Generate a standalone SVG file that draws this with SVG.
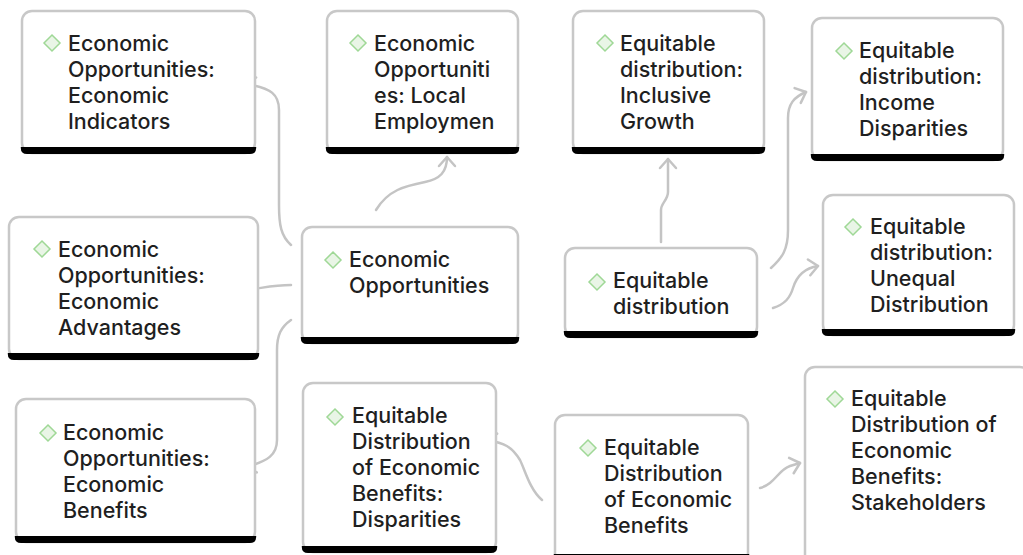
<svg xmlns="http://www.w3.org/2000/svg" width="1023" height="555" viewBox="0 0 1023 555">
<defs>
<style>
.box{fill:#fff;stroke:#c8c8c8;stroke-width:2.5}
.bar{fill:#000}
.t{font-family:Inter,"Liberation Sans",sans-serif;font-size:21.5px;font-weight:500;fill:#1f1f1f}
.ico{fill:#e9f5e6;stroke:#9fd896;stroke-width:1.5}
.con{fill:none;stroke:#c4c4c4;stroke-width:2.5;stroke-linecap:round}
</style>
<marker id="arr" markerUnits="userSpaceOnUse" markerWidth="24" markerHeight="24" viewBox="-12 -12 24 24" refX="0" refY="0" orient="auto" overflow="visible">
<path d="M-9,-8 L0,0 L-9,8" fill="none" stroke="#c4c4c4" stroke-width="2.5" stroke-linecap="round" stroke-linejoin="round"/>
</marker>
</defs>
<rect width="1023" height="555" fill="#fff"/>
<g id="connectors">
<path class="con" d="M291,245 C281,236 279,225 279,205 L279,110 C279,95 272,88 246,84" marker-end="url(#arr)"/>
<path class="con" d="M291,285 C275,285 268,287 247,290" marker-end="url(#arr)"/>
<path class="con" d="M291,320 C281,327 277,335 277,350 L277,440 C277,455 268,461 246,467" marker-end="url(#arr)"/>
<path class="con" d="M376,210 C388,190 405,186 425,182 C440,179 447,172 447,157" marker-end="url(#arr)"/>
<path class="con" d="M661,242 L661,210 C661,203 668,200 668,192 L668,159" marker-end="url(#arr)"/>
<path class="con" d="M771,268 C782,258 788,250 788,230 L788,118 C788,104 794,97 806,92" marker-end="url(#arr)"/>
<path class="con" d="M773,308 C785,304 790,298 793,288 C797,275 805,268 818,266" marker-end="url(#arr)"/>
<path class="con" d="M542,500 C530,490 525,470 520,460 C512,447 505,443 487,440" marker-end="url(#arr)"/>
<path class="con" d="M760,488 C775,484 778,470 790,466 L800,463" marker-end="url(#arr)"/>
</g>
<g id="n1">
<rect class="box" x="22" y="11" width="233" height="142" rx="10"/>
<path class="bar" d="M20.8,147 H256.2 V148 Q256.2,154 250,154 H27 Q20.8,154 20.8,148 Z"/>
<path class="ico" d="M52,35 L60,43 L52,51 L44,43 Z"/>
<text class="t" x="68" y="51">Economic<tspan x="68" dy="26">Opportunities:</tspan><tspan x="68" dy="26">Economic</tspan><tspan x="68" dy="26">Indicators</tspan></text>
</g>
<g id="n2">
<rect class="box" x="327" y="11" width="191" height="142" rx="10"/>
<path class="bar" d="M325.8,147 H519.2 V148 Q519.2,154 513,154 H332 Q325.8,154 325.8,148 Z"/>
<path class="ico" d="M358,35 L366,43 L358,51 L350,43 Z"/>
<text class="t" x="374" y="51">Economic<tspan x="374" dy="26">Opportuniti</tspan><tspan x="374" dy="26">es: Local</tspan><tspan x="374" dy="26">Employmen</tspan></text>
</g>
<g id="n3">
<rect class="box" x="573" y="11" width="191" height="142" rx="10"/>
<path class="bar" d="M571.8,147 H765.2 V148 Q765.2,154 759,154 H578 Q571.8,154 571.8,148 Z"/>
<path class="ico" d="M605,35 L613,43 L605,51 L597,43 Z"/>
<text class="t" x="620" y="51">Equitable<tspan x="620" dy="26">distribution:</tspan><tspan x="620" dy="26">Inclusive</tspan><tspan x="620" dy="26">Growth</tspan></text>
</g>
<g id="n4">
<rect class="box" x="812" y="18" width="191" height="142" rx="10"/>
<path class="bar" d="M810.8,154 H1004.2 V155 Q1004.2,161 998,161 H817 Q810.8,161 810.8,155 Z"/>
<path class="ico" d="M844,43 L852,51 L844,59 L836,51 Z"/>
<text class="t" x="859" y="58">Equitable<tspan x="859" dy="26">distribution:</tspan><tspan x="859" dy="26">Income</tspan><tspan x="859" dy="26">Disparities</tspan></text>
</g>
<g id="n5">
<rect class="box" x="9" y="217" width="249" height="142" rx="10"/>
<path class="bar" d="M7.8,353 H259.2 V354 Q259.2,360 253,360 H14 Q7.8,360 7.8,354 Z"/>
<path class="ico" d="M42,241 L50,249 L42,257 L34,249 Z"/>
<text class="t" x="58" y="257">Economic<tspan x="58" dy="26">Opportunities:</tspan><tspan x="58" dy="26">Economic</tspan><tspan x="58" dy="26">Advantages</tspan></text>
</g>
<g id="n6">
<rect class="box" x="302" y="227" width="216" height="116" rx="10"/>
<path class="bar" d="M300.8,337 H519.2 V338 Q519.2,344 513,344 H307 Q300.8,344 300.8,338 Z"/>
<path class="ico" d="M333,252 L341,260 L333,268 L325,260 Z"/>
<text class="t" x="349" y="267">Economic<tspan x="349" dy="26">Opportunities</tspan></text>
</g>
<g id="n7">
<rect class="box" x="565" y="248" width="192" height="89" rx="10"/>
<path class="bar" d="M563.8,331 H758.2 V332 Q758.2,338 752,338 H570 Q563.8,338 563.8,332 Z"/>
<path class="ico" d="M597,274 L605,282 L597,290 L589,282 Z"/>
<text class="t" x="613" y="288">Equitable<tspan x="613" dy="26">distribution</tspan></text>
</g>
<g id="n8">
<rect class="box" x="823" y="195" width="191" height="140" rx="10"/>
<path class="bar" d="M821.8,329 H1015.2 V330 Q1015.2,336 1009,336 H828 Q821.8,336 821.8,330 Z"/>
<path class="ico" d="M853,219 L861,227 L853,235 L845,227 Z"/>
<text class="t" x="870" y="234">Equitable<tspan x="870" dy="26">distribution:</tspan><tspan x="870" dy="26">Unequal</tspan><tspan x="870" dy="26">Distribution</tspan></text>
</g>
<g id="n9">
<rect class="box" x="16" y="399" width="239" height="143" rx="10"/>
<path class="bar" d="M14.8,536 H256.2 V537 Q256.2,543 250,543 H21 Q14.8,543 14.8,537 Z"/>
<path class="ico" d="M48,425 L56,433 L48,441 L40,433 Z"/>
<text class="t" x="63" y="440">Economic<tspan x="63" dy="26">Opportunities:</tspan><tspan x="63" dy="26">Economic</tspan><tspan x="63" dy="26">Benefits</tspan></text>
</g>
<g id="n10">
<rect class="box" x="303" y="383" width="193" height="169" rx="10"/>
<path class="bar" d="M301.8,546 H497.2 V547 Q497.2,553 491,553 H308 Q301.8,553 301.8,547 Z"/>
<path class="ico" d="M335,409 L343,417 L335,425 L327,417 Z"/>
<text class="t" x="352" y="423">Equitable<tspan x="352" dy="26">Distribution</tspan><tspan x="352" dy="26">of Economic</tspan><tspan x="352" dy="26">Benefits:</tspan><tspan x="352" dy="26">Disparities</tspan></text>
</g>
<g id="n11">
<rect class="box" x="555" y="415" width="193" height="150" rx="10"/>
<path class="bar" d="M553.8,554 H749.2 V566 H553.8 Z"/>
<path class="ico" d="M588,440 L596,448 L588,456 L580,448 Z"/>
<text class="t" x="604" y="455">Equitable<tspan x="604" dy="26">Distribution</tspan><tspan x="604" dy="26">of Economic</tspan><tspan x="604" dy="26">Benefits</tspan></text>
</g>
<g id="n12">
<rect class="box" x="805" y="367" width="225" height="200" rx="10"/>
<path class="ico" d="M835,391 L843,399 L835,407 L827,399 Z"/>
<text class="t" x="851" y="406">Equitable<tspan x="851" dy="26">Distribution of</tspan><tspan x="851" dy="26">Economic</tspan><tspan x="851" dy="26">Benefits:</tspan><tspan x="851" dy="26">Stakeholders</tspan></text>
</g>
</svg>
